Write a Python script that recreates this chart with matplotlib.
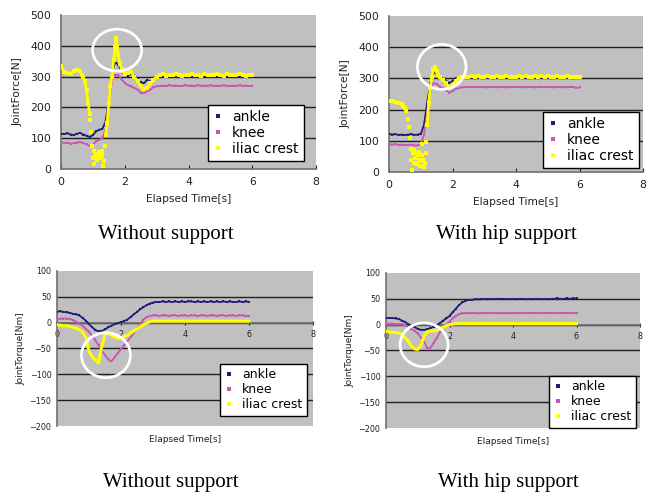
import matplotlib
matplotlib.use("Agg")
import matplotlib.pyplot as plt
from matplotlib.patches import Ellipse
from matplotlib.lines import Line2D

# ---------------- data ----------------
time_s = [0.0, 0.1, 0.2, 0.3, 0.4, 0.5, 0.6, 0.7, 0.8, 0.9, 1.0, 1.1, 1.2, 1.3, 1.4, 1.5,
          1.6, 1.7, 1.8, 1.9, 2.0, 2.1, 2.2, 2.3, 2.4, 2.5, 2.6, 2.7, 2.8, 2.9, 3.0, 3.1,
          3.2, 3.3, 3.4, 3.5, 3.6, 3.7, 3.8, 3.9, 4.0, 4.1, 4.2, 4.3, 4.4, 4.5, 4.6, 4.7,
          4.8, 4.9, 5.0, 5.1, 5.2, 5.3, 5.4, 5.5, 5.6, 5.7, 5.8, 5.9, 6.0]
steady_time = [2.1, 2.2, 2.3, 2.4, 2.5, 2.6, 2.7, 2.8, 2.9, 3.0, 3.1, 3.2, 3.3, 3.4, 3.5,
               3.6, 3.7, 3.8, 3.9, 4.0, 4.1, 4.2, 4.3, 4.4, 4.5, 4.6, 4.7, 4.8, 4.9, 5.0,
               5.1, 5.2, 5.3, 5.4, 5.5, 5.6, 5.7, 5.8, 5.9, 6.0]

series_names = ["ankle", "knee", "iliac crest"]
captions = ["Without support", "With hip support"]

# Joint force, without support
force_wo_ankle = [115, 113, 116, 112, 110, 115, 117, 112, 108, 104,
                  110, 122, 128, 130, 155, 225, 310, 348, 338, 318,
                  305, 303, 310, 305, 292, 282, 278, 290, 283, 297,
                  295, 300, 302, 299, 301, 303, 300, 298, 302, 301,
                  300, 302, 299, 303, 301, 300, 302, 298, 301, 303,
                  300, 299, 302, 301, 300, 303, 299, 301, 302, 300, 301]
force_wo_knee = [88, 84, 86, 82, 84, 86, 88, 84, 80, 75,
                 78, 90, 95, 100, 130, 210, 285, 305, 306, 290,
                 280, 272, 268, 263, 258, 248, 246, 252, 258, 265,
                 268, 270, 271, 269, 272, 270, 271, 269, 270, 272,
                 270, 271, 269, 272, 270, 271, 270, 272, 269, 271,
                 270, 272, 270, 269, 271, 270, 272, 270, 271, 269, 270]
force_wo_iliac_time = [0.0, 0.1, 0.2, 0.3, 0.4, 0.5, 0.6, 0.65, 0.7, 0.75, 0.8, 0.85, 0.9,
                       0.92, 0.95, 0.97, 1.0, 1.03, 1.05, 1.08, 1.1, 1.13, 1.15, 1.18, 1.2,
                       1.23, 1.25, 1.28, 1.3, 1.33, 1.35, 1.38, 1.4, 1.45, 1.5, 1.55, 1.6,
                       1.65, 1.7, 1.73, 1.75, 1.8, 1.85, 1.9, 1.95, 2.0] + steady_time
force_wo_iliac = [334, 316, 312, 310, 318, 322, 318, 305, 298, 285, 255, 215, 180,
                  160, 120, 75, 35, 15, 60, 40, 50, 30, 45, 55, 35,
                  50, 40, 60, 45, 10, 25, 75, 110, 150, 215, 270, 300,
                  355, 395, 425, 400, 370, 340, 325, 318, 310,
                  312, 316, 300, 285, 268, 260, 262, 278, 290,
                  300, 305, 308, 303, 306, 304, 307, 305, 302, 306,
                  305, 308, 304, 306, 303, 307, 305, 306, 304, 308,
                  305, 303, 307, 305, 306, 304, 308, 305, 303, 306, 305]
force_wo_scatter_window = (0.9, 1.4)

# Joint force, with hip support
force_w_ankle = [122, 120, 121, 119, 120, 118, 120, 121, 119, 120,
                 122, 150, 220, 285, 318, 318, 305, 298, 293, 285,
                 292, 300, 301, 302, 303, 301, 302, 300, 303, 302,
                 301, 302, 303, 300, 302, 301, 303, 302, 300, 302,
                 302, 301, 303, 302, 300, 302, 301, 303, 302, 301,
                 302, 300, 303, 301, 302, 303, 301, 302, 300, 302, 301]
force_w_knee = [90, 88, 89, 87, 88, 86, 87, 88, 85, 85,
                88, 120, 190, 255, 285, 282, 274, 268, 262, 254,
                260, 266, 270, 271, 272, 273, 271, 272, 273, 272,
                272, 271, 273, 272, 271, 273, 272, 271, 272, 273,
                272, 273, 271, 272, 273, 272, 271, 273, 272, 271,
                273, 272, 271, 273, 272, 271, 272, 273, 272, 270, 271]
force_w_iliac_time = [0.0, 0.1, 0.2, 0.3, 0.4, 0.45, 0.5, 0.55, 0.6, 0.62, 0.65, 0.68, 0.7,
                      0.72, 0.75, 0.78, 0.8, 0.83, 0.85, 0.88, 0.9, 0.93, 0.95, 0.98, 1.0,
                      1.03, 1.05, 1.08, 1.1, 1.13, 1.15, 1.18, 1.2, 1.25, 1.3, 1.35, 1.4,
                      1.45, 1.5, 1.55, 1.6, 1.7, 1.8, 1.9, 2.0] + steady_time
force_w_iliac = [228, 226, 225, 222, 218, 212, 205, 196, 170, 145, 110, 75, 40,
                 8, 60, 30, 70, 45, 60, 25, 55, 40, 65, 20, 35,
                 55, 90, 40, 15, 30, 95, 60, 150, 220, 270, 305, 330,
                 338, 325, 312, 303, 295, 285, 270, 280,
                 292, 302, 305, 306, 304, 307, 305, 308, 306,
                 305, 307, 306, 304, 308, 306, 305, 307, 306, 304,
                 306, 308, 305, 307, 306, 304, 307, 306, 308, 305,
                 307, 306, 304, 308, 306, 305, 307, 306, 304, 306, 305]
force_w_scatter_window = (0.57, 1.2)

# Joint torque, without support
torque_wo_ankle = [21, 22, 21, 20, 19, 17, 16, 14, 9, 4,
                   -3, -9, -14, -17, -16, -13, -9, -6, -3, -1,
                   1, 3, 6, 11, 16, 21, 26, 30, 34, 37,
                   39, 40, 40, 41, 40, 41, 40, 41, 40, 41,
                   40, 41, 41, 40, 41, 40, 41, 40, 41, 40,
                   41, 40, 41, 40, 41, 40, 40, 41, 40, 41, 40]
torque_wo_knee = [7, 8, 8, 8, 7, 5, 2, -2, -6, -12,
                  -18, -26, -34, -44, -54, -63, -71, -75, -67, -59,
                  -51, -44, -36, -28, -20, -11, -3, 6, 11, 13,
                  14, 14, 13, 14, 14, 13, 14, 14, 13, 14,
                  14, 13, 14, 14, 13, 14, 14, 13, 14, 14,
                  13, 14, 14, 13, 14, 14, 13, 14, 14, 13, 13]
torque_wo_iliac = [-4, -5, -6, -6, -7, -9, -11, -14, -18, -28,
                   -55, -66, -72, -78, -45, -24, -20, -24, -28, -30,
                   -29, -27, -24, -20, -16, -12, -8, -4, -1, 2,
                   3, 3, 3, 3, 3, 3, 3, 3, 3, 3,
                   3, 3, 3, 3, 3, 3, 3, 3, 3, 3,
                   3, 3, 3, 3, 3, 3, 3, 3, 3, 3, 3]

# Joint torque, with hip support
torque_w_ankle = [13, 13, 13, 12, 11, 8, 5, 1, -2, -5,
                  -8, -10, -10, -9, -7, -4, -1, 3, 8, 12,
                  17, 24, 31, 38, 43, 46, 48, 48, 49, 49,
                  49, 50, 49, 50, 49, 50, 50, 49, 50, 49,
                  50, 49, 50, 50, 49, 50, 49, 50, 50, 49,
                  50, 49, 50, 50, 51, 50, 50, 51, 50, 51, 51]
torque_w_knee = [2, 2, 2, 1, 1, 1, -1, -4, -8, -12,
                 -17, -25, -33, -46, -45, -35, -25, -15, -7, 0,
                 6, 12, 17, 20, 22, 22, 22, 23, 22, 22,
                 22, 23, 22, 22, 23, 22, 22, 23, 22, 22,
                 23, 22, 22, 23, 22, 22, 23, 22, 22, 23,
                 22, 23, 22, 22, 23, 22, 23, 22, 22, 23, 22]
torque_w_iliac = [-13, -14, -15, -15, -16, -19, -25, -32, -41, -47,
                  -48, -40, -22, -14, -12, -12, -11, -8, -5, -2,
                  0, 1, 2, 2, 2, 2, 2, 2, 2, 2,
                  2, 2, 2, 2, 2, 2, 2, 2, 2, 2,
                  2, 2, 2, 2, 2, 2, 2, 2, 2, 2,
                  2, 2, 2, 2, 2, 2, 2, 2, 2, 2, 2]

x_ticks = [0, 2, 4, 6, 8]
force_ticks = [0, 100, 200, 300, 400, 500]
torque_ticks = [-200, -150, -100, -50, 0, 50, 100]

# ---------------- style ----------------
C_ANKLE = "#1f1f78"
C_KNEE = "#cc55b4"
C_ILIAC = "#ffff00"
BG = "#c0c0c0"
FONT = "DejaVu Sans"

W, H = 655, 496
fig = plt.figure(figsize=(W / 100, H / 100), dpi=100)


def px_rect(l, t, r, b):
    return [l / W, (H - b) / H, (r - l) / W, (b - t) / H]


def style_axes(ax, yticks, ylabel, torque):
    ax.set_facecolor(BG)
    ax.set_xlim(0, 8)
    ax.set_ylim(yticks[0], yticks[-1])
    ax.set_xticks(x_ticks)
    ax.set_yticks(yticks)
    for s in ("top", "right"):
        ax.spines[s].set_visible(False)
    ax.spines["left"].set_color("#707070")
    ax.spines["bottom"].set_color("#707070")
    ax.spines["left"].set_linewidth(1.2)
    ax.spines["bottom"].set_linewidth(1.2)
    ax.yaxis.grid(True, color="#202020", lw=1.0)
    ax.set_axisbelow(True)
    gl = ax.get_ygridlines()
    gl[0].set_visible(False)
    gl[-1].set_visible(False)
    if torque:
        ax.spines["bottom"].set_position(("data", 0))
        ax.tick_params(axis="x", labelsize=5.8, pad=4, length=3, direction="inout", colors="#202020")
        ax.tick_params(axis="y", labelsize=5.8, pad=4, length=0, colors="#202020")
        lab_fs = 6.5
        ax.set_xlabel("Elapsed Time[s]", fontsize=lab_fs, family=FONT, color="#202020")
        ax.xaxis.set_label_coords(0.5, -0.06)
        ax.set_ylabel(ylabel, fontsize=lab_fs, family=FONT, color="#202020")
        ax.yaxis.set_label_coords(-0.125, 0.5)
    else:
        ax.tick_params(axis="x", labelsize=7.8, pad=6, length=3, direction="in", colors="#202020")
        ax.tick_params(axis="y", labelsize=7.8, pad=7, length=0, colors="#202020")
        lab_fs = 7.7
        ax.set_xlabel("Elapsed Time[s]", fontsize=lab_fs, family=FONT, color="#202020", labelpad=1)
        ax.xaxis.set_label_coords(0.5, -0.16)
        ax.set_ylabel(ylabel, fontsize=lab_fs, family=FONT, color="#202020")
        ax.yaxis.set_label_coords(-0.15, 0.5)
    for lab in ax.get_xticklabels() + ax.get_yticklabels():
        lab.set_family(FONT)


def draw_series(ax, t_a, ankle, t_k, knee, t_i, iliac, scatter_window=None):
    ax.plot(t_a, ankle, color=C_ANKLE, lw=1.3, marker="s", ms=2.0, mew=0, zorder=3)
    ax.plot(t_k, knee, color=C_KNEE, lw=1.3, marker="s", ms=2.0, mew=0, zorder=3)
    if scatter_window is not None:
        lo, hi = scatter_window
        before = [(t, v) for t, v in zip(t_i, iliac) if t <= lo]
        after = [(t, v) for t, v in zip(t_i, iliac) if t >= hi]
        for part in (before, after):
            ax.plot([p[0] for p in part], [p[1] for p in part], color=C_ILIAC,
                    lw=2.0, zorder=4)
        ax.plot(t_i, iliac, ls="none", color=C_ILIAC, marker="s", ms=2.8, mew=0, zorder=4)
    else:
        ax.plot(t_i, iliac, color=C_ILIAC, lw=2.2, marker="s", ms=2.0, mew=0, zorder=4)


def add_legend(ax, x0, ytop, fs):
    handles = [Line2D([], [], ls="none", marker="s", ms=2.2, mew=0, color=c)
               for c in (C_ANKLE, C_KNEE, C_ILIAC)]
    leg = ax.legend(handles, series_names, loc="upper left", bbox_to_anchor=(x0, ytop),
                    borderaxespad=0, frameon=True, fancybox=False, edgecolor="black",
                    framealpha=1, facecolor="white", prop={"family": FONT, "size": fs},
                    handlelength=0.7, handletextpad=0.7, labelspacing=0.15, borderpad=0.35)
    leg.get_frame().set_linewidth(1.0)
    leg.set_zorder(10)


def add_circle(ax, cx, cy, w, h):
    ax.add_patch(Ellipse((cx, cy), w, h, fill=False, ec="white", lw=2.0, zorder=6))


# Top-left: force without support
ax1 = fig.add_axes(px_rect(61, 15, 316, 169))
style_axes(ax1, force_ticks, "JointForce[N]", False)
draw_series(ax1, time_s, force_wo_ankle, time_s, force_wo_knee,
            force_wo_iliac_time, force_wo_iliac, force_wo_scatter_window)
add_legend(ax1, 0.576, 0.415, 10)
add_circle(ax1, 1.76, 386, 1.54, 136)

# Top-right: force with hip support
ax2 = fig.add_axes(px_rect(389, 16, 643, 172))
style_axes(ax2, force_ticks, "JointForce[N]", False)
draw_series(ax2, time_s, force_w_ankle, time_s, force_w_knee,
            force_w_iliac_time, force_w_iliac, force_w_scatter_window)
add_legend(ax2, 0.606, 0.385, 10)
add_circle(ax2, 1.66, 337, 1.53, 144)

# Bottom-left: torque without support
ax3 = fig.add_axes(px_rect(57, 271, 313, 426))
style_axes(ax3, torque_ticks, "JointTorque[Nm]", True)
draw_series(ax3, time_s, torque_wo_ankle, time_s, torque_wo_knee,
            time_s, torque_wo_iliac)
add_legend(ax3, 0.637, 0.40, 9)
add_circle(ax3, 1.53, -63, 1.53, 87)

# Bottom-right: torque with hip support
ax4 = fig.add_axes(px_rect(386, 273, 640, 428))
style_axes(ax4, torque_ticks, "JointTorque[Nm]", True)
draw_series(ax4, time_s, torque_w_ankle, time_s, torque_w_knee,
            time_s, torque_w_iliac)
add_legend(ax4, 0.642, 0.335, 9)
add_circle(ax4, 1.20, -39, 1.51, 85)

# Captions
cap_kw = dict(family="Liberation Serif", fontsize=15, ha="center", va="center", color="black")
fig.text(166 / W, 1 - 234 / H, captions[0], **cap_kw)
fig.text(506 / W, 1 - 234 / H, captions[1], **cap_kw)
fig.text(171 / W, 1 - 482 / H, captions[0], **cap_kw)
fig.text(508 / W, 1 - 482 / H, captions[1], **cap_kw)

fig.savefig("out.png", dpi=100, facecolor="white")
